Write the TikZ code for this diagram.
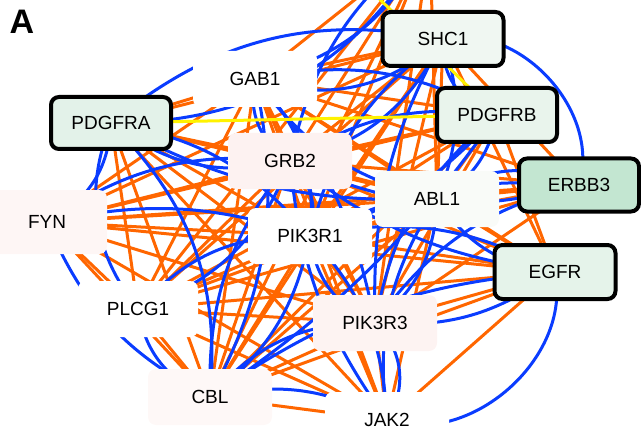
\documentclass[tikz,border=0pt]{standalone}
\usepackage{fontspec}
\setmainfont{Liberation Sans}
\usetikzlibrary{backgrounds}
\definecolor{eorange}{HTML}{FF6600}
\definecolor{eblue}{HTML}{0A3CFF}
\definecolor{eyellow}{HTML}{FFF200}
\definecolor{gA}{HTML}{E3F2E9}
\definecolor{gB}{HTML}{F0F7F2}
\definecolor{gC}{HTML}{E9F4EC}
\definecolor{gD}{HTML}{C3E6D1}
\definecolor{gE}{HTML}{E5F3EA}
\definecolor{pA}{HTML}{FDF2F1}
\definecolor{pB}{HTML}{FEF6F5}
\definecolor{pC}{HTML}{FDF3F2}
\definecolor{pD}{HTML}{FEF8F7}
\definecolor{wA}{HTML}{F9FBF8}
\tikzset{
  gene/.style={rounded corners=8pt, minimum width=124pt, minimum height=56pt, inner sep=0pt,
    font=\fontsize{19}{21}\selectfont},
  seed/.style={gene, draw=black, line width=4pt},
  oedge/.style={draw=eorange, line width=3pt},
  bedge/.style={draw=eblue, line width=3pt},
  yedge/.style={draw=eyellow, line width=3pt},
}
\begin{document}
\begin{tikzpicture}[x=1pt,y=-1pt]
\useasboundingbox (0,0) rectangle (641,436);
\coordinate (top) at (430,-60);
\coordinate (topy) at (335,-45);
\node[gene, fill=white] (GAB1) at (255,79) {GAB1};
\node[gene, fill=pA] (GRB2) at (290,161) {GRB2};
\node[gene, fill=wA] (ABL1) at (437,199) {ABL1};
\node[gene, fill=pB, minimum width=120pt, minimum height=64pt] (FYN) at (47,222) {FYN};
\node[gene, fill=white] (PIK3R1) at (310,236) {PIK3R1};
\node[gene, fill=white, minimum width=120pt] (PLCG1) at (138,309) {PLCG1};
\node[gene, fill=pC] (PIK3R3) at (375,323) {PIK3R3};
\node[gene, fill=pD] (CBL) at (210,397) {CBL};
\node[gene, fill=white] (JAK2) at (387,420) {JAK2};
\node[seed, fill=gA, minimum width=120pt, minimum height=52pt] (PDGFRA) at (111,123) {PDGFRA};
\node[seed, fill=gB, minimum width=121pt, minimum height=54pt] (SHC1) at (443,39) {SHC1};
\node[seed, fill=gC, minimum width=120pt, minimum height=54pt] (PDGFRB) at (497,115) {PDGFRB};
\node[seed, fill=gD, minimum width=120pt, minimum height=53pt] (ERBB3) at (579,185) {ERBB3};
\node[seed, fill=gE, minimum width=121pt, minimum height=54pt] (EGFR) at (555,272) {EGFR};
\node[font=\bfseries\fontsize{34}{36}\selectfont, inner sep=0pt] (lab) at (22,22) {A};
\begin{pgfonlayer}{background}
\foreach \a/\b in {GAB1/GRB2, GAB1/PIK3R1, GAB1/PIK3R3, GAB1/SHC1, GAB1/PDGFRB, GAB1/ABL1, GAB1/EGFR, GAB1/ERBB3, GAB1/PLCG1, GAB1/CBL, GAB1/PDGFRA, GAB1/FYN,
  PDGFRA/GRB2, PDGFRA/PIK3R1, PDGFRA/PIK3R3, PDGFRA/PLCG1, PDGFRA/CBL, PDGFRA/SHC1, PDGFRA/ABL1, PDGFRA/JAK2,
  SHC1/GRB2, SHC1/PIK3R1, SHC1/ABL1, SHC1/EGFR, SHC1/PLCG1, SHC1/FYN, SHC1/PIK3R3, SHC1/CBL,
  PDGFRB/GRB2, PDGFRB/PIK3R1, PDGFRB/PIK3R3, PDGFRB/PLCG1, PDGFRB/ABL1, PDGFRB/FYN, PDGFRB/CBL, PDGFRB/EGFR,
  ERBB3/GRB2, ERBB3/PIK3R1, ERBB3/PIK3R3, ERBB3/ABL1, ERBB3/FYN, ERBB3/PLCG1, ERBB3/SHC1,
  EGFR/GRB2, EGFR/PIK3R1, EGFR/PIK3R3, EGFR/JAK2, EGFR/CBL, EGFR/PLCG1, EGFR/FYN, EGFR/ABL1,
  GRB2/FYN, GRB2/PLCG1, GRB2/CBL, GRB2/PIK3R3, GRB2/JAK2, GRB2/ABL1,
  ABL1/PIK3R1, ABL1/PLCG1, ABL1/CBL, ABL1/FYN, ABL1/JAK2,
  FYN/PIK3R1, FYN/PIK3R3, FYN/CBL, FYN/JAK2, FYN/PLCG1,
  PIK3R1/PLCG1, PIK3R1/CBL, PIK3R1/JAK2, PIK3R1/PIK3R3,
  PLCG1/PIK3R3, PLCG1/CBL, PLCG1/JAK2, PIK3R3/CBL, PIK3R3/JAK2, CBL/JAK2,
  top/GRB2, top/PIK3R1, top/PLCG1, top/CBL, top/PIK3R3, top/ABL1, top/GAB1}
  \draw[oedge] (\a.center) -- (\b.center);
\foreach \a/\b/\ang in {PDGFRA/GRB2/-25, PDGFRA/FYN/30, PDGFRA/PIK3R1/20, PDGFRA/CBL/25, PDGFRA/PLCG1/-30, PDGFRA/SHC1/25, PDGFRA/ABL1/-15,
  GAB1/SHC1/-30, GAB1/PIK3R1/25, GAB1/GRB2/-35, GAB1/CBL/20, GAB1/PDGFRB/20, GAB1/ABL1/-20, GAB1/PIK3R3/15,
  SHC1/ERBB3/60, SHC1/GRB2/25, SHC1/PIK3R1/-20, SHC1/PDGFRB/-40, SHC1/ABL1/20, SHC1/PIK3R3/-15,
  PDGFRB/ABL1/25, PDGFRB/GRB2/-20, PDGFRB/PIK3R1/15, PDGFRB/PIK3R3/-20, PDGFRB/CBL/10,
  ERBB3/PIK3R1/-15, ERBB3/GRB2/20, ERBB3/ABL1/-30, ERBB3/PIK3R3/-20,
  EGFR/PIK3R3/20, EGFR/JAK2/60, EGFR/CBL/-15, EGFR/ABL1/25, EGFR/PIK3R1/-20, EGFR/GRB2/15,
  GRB2/PIK3R1/30, GRB2/CBL/-20, GRB2/PLCG1/25, GRB2/FYN/-20, GRB2/JAK2/-15,
  ABL1/PIK3R3/25, ABL1/JAK2/-20, FYN/PIK3R1/15, FYN/CBL/-20,
  PIK3R1/CBL/20, PIK3R1/PIK3R3/-30, PIK3R1/PLCG1/-25, PIK3R1/JAK2/20,
  PLCG1/CBL/-30, PIK3R3/CBL/-25, PIK3R3/JAK2/40, CBL/JAK2/20,
  top/GAB1/25, top/PDGFRA/30, top/GRB2/-20}
  \draw[bedge] (\a.center) to[bend left=\ang] (\b.center);
\draw[yedge] (PDGFRA.center) -- (PDGFRB.center);
\draw[yedge] (topy) -- (PDGFRB.center);
\end{pgfonlayer}
\end{tikzpicture}
\end{document}
